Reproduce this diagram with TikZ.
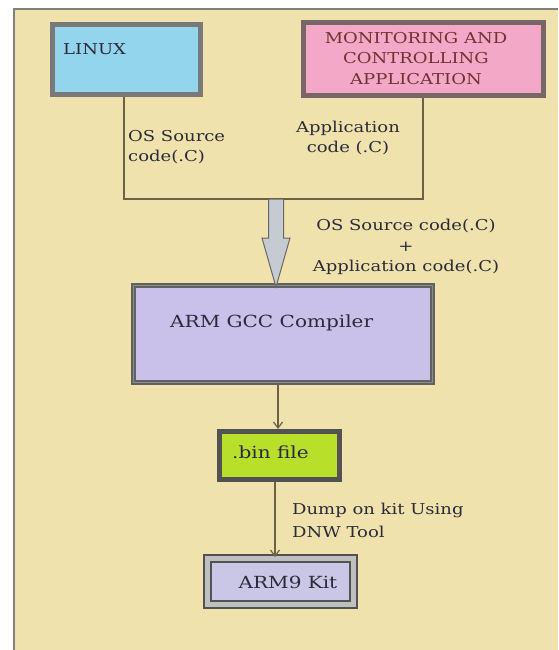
\documentclass[tikz,border=0pt]{standalone}
\usepackage{fontspec}
\setmainfont{DejaVu Serif}[FakeStretch=1.2]
\usepackage{tikz}
\usetikzlibrary{arrows.meta,calc}

\definecolor{bgbeige}{HTML}{F0E2AC}
\definecolor{linuxblue}{HTML}{93D5EC}
\definecolor{apppink}{HTML}{F4A8C8}
\definecolor{gcclav}{HTML}{C9C1EA}
\definecolor{binlime}{HTML}{B8E02A}
\definecolor{kitlav}{HTML}{CAC6E6}
\definecolor{arrowgray}{HTML}{C6CAD2}
\definecolor{wirecol}{HTML}{6B6245}
\definecolor{inkcol}{HTML}{2B2B3B}

\begin{document}
\begin{tikzpicture}[x=1pt,y=-1pt,
  txt/.style={text=inkcol,font=\fontsize{15}{20.5}\selectfont,inner sep=0pt},
  boxtxt/.style={text=inkcol,font=\fontsize{16.7}{20}\selectfont,inner sep=0pt},
  blk/.style={draw=#1,line width=5pt,inner sep=0pt},
  wire/.style={draw=wirecol,line width=1.2pt},
  flow/.style={wire,-{Straight Barb[length=6pt,width=9pt]}}]
  \useasboundingbox (0,0) rectangle (558,650);
  \fill[bgbeige] (14,9) rectangle (558,650);
  \draw[gray,line width=1.5pt] (14,650) -- (14,9) -- (558,9);

  % boxes
  \node[blk={gray!95!black},fill=linuxblue,minimum width=148,minimum height=70] (linux) at (126.5,59.5) {};
  \node[txt,anchor=west] (linuxtxt) at (63,49) {LINUX};
  \node[blk={black!65!red!20!gray},fill=apppink,minimum width=240,minimum height=73] (app) at (423,59.5) {};
  \node[txt,align=center,text=black!60!red!60!gray] (apptxt) at (416,58.5) {MONITORING AND\\CONTROLLING\\APPLICATION};
  \node[blk={black!62},fill=gcclav,minimum width=299,minimum height=97] (gcc) at (283,334) {};
  \draw[black!45,line width=1.5pt] ($(gcc.north west)+(2.5,2.5)$) rectangle ($(gcc.south east)+(-2.5,-2.5)$);
  \node[boxtxt,anchor=west] (gcctxt) at (170,323) {ARM GCC Compiler};
  \node[blk={black!68},fill=binlime,minimum width=120,minimum height=48] (bin) at (279.5,455.5) {};
  \node[boxtxt,anchor=west] (bintxt) at (232,452) {.bin file};
  \node[draw=black!68,line width=2pt,double=black!25,double distance=5pt,fill=kitlav,
        minimum width=146,minimum height=46,inner sep=0pt] (kit) at (280,581) {};
  \node[boxtxt] (kittxt) at (288,582) {ARM9 Kit};

  % joining lines
  \coordinate (jl) at (124,199);
  \coordinate (jr) at (423,199);
  \draw[wire] (linux.south -| jl) -- (jl) -- (jr) -- (app.south -| jr);
  \node[txt,anchor=west,align=left] (ostxt) at (128,147) {OS Source\\code(.C)};
  \node[txt,align=center] (apcode) at (348,138) {Application\\code (.C)};

  % big arrow
  \coordinate (bigtop) at (276,199);
  \coordinate (bigtip) at (gcc.north -| bigtop);
  \filldraw[fill=arrowgray,draw=black!60,line width=1pt]
    ($(bigtop)+(-7.5,0)$) -- ($(bigtip)+(-7.5,-45)$) -- ($(bigtip)+(-14,-45)$) -- ($(bigtip)+(0,4)$)
    -- ($(bigtip)+(14,-45)$) -- ($(bigtip)+(7.5,-45)$) -- ($(bigtop)+(7.5,0)$) -- cycle;
  \node[txt,align=center] (sumtxt) at (406,247) {OS Source code(.C)\\+\\Application code(.C)};

  \draw[flow] (gcc.south -| 278,0) -- (bin.north -| 278,0);
  \draw[flow] (bin.south -| 275,0) -- (kit.north -| 275,0);
  \node[txt,anchor=west,align=left,font=\fontsize{15}{23}\selectfont] (dumptxt) at (292,520.5) {Dump on kit Using\\DNW Tool};
\end{tikzpicture}
\end{document}
